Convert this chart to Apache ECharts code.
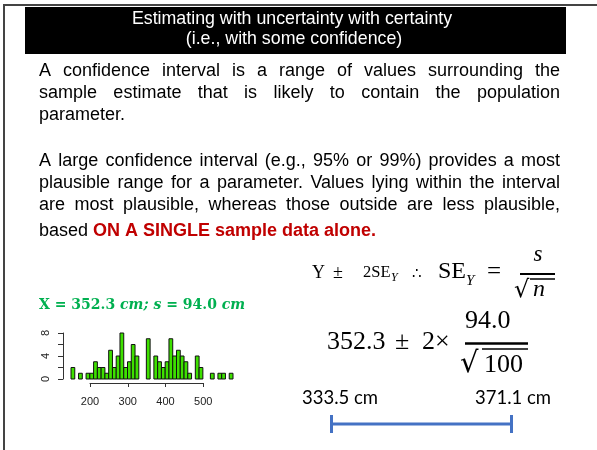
<!DOCTYPE html>
<html><head><meta charset="utf-8">
<script src="https://cdn.jsdelivr.net/npm/echarts@6/dist/echarts.min.js"></script>
<style>html,body{margin:0;padding:0;background:#fff}#c{width:597px;height:450px}</style>
</head><body><div id="c"></div>
<script>
// ---- data ----
const binStarts = [150,160,170,180,190,200,210,220,230,240,250,260,270,280,290,300,310,320,330,340,350,360,370,380,390,400,410,420,430,440,450,460,470,480,490,500,510,520,530,540,550,560,570];
const counts    = [2,0,1,0,1,1,3,2,2,1,5,2,4,8,2,3,6,4,0,0,7,0,4,3,2,3,7,4,5,4,3,1,0,4,2,0,0,1,0,1,1,0,1];
const binWidth = 10;
const xTickLabels = [200,300,400,500];
const yTickLabels = [0,4,8];
const sampleMean = 352.3, sampleSD = 94.0, sampleN = 100;
const ciLower = 333.5, ciUpper = 371.1;

const titleLines = ['Estimating with uncertainty with certainty','(i.e., with some confidence)'];
const para1 = ['A confidence interval is a range of values surrounding the','sample estimate that is likely to contain the population','parameter.'];
const para2 = ['A large confidence interval (e.g., 95% or 99%) provides a most','plausible range for a parameter.  Values lying within the interval','are most plausible, whereas those outside are less plausible,'];
const lastPlain = 'based ', lastRed = 'ON A SINGLE sample data alone.';

// ---- layout helpers ----
const SANS = '"Liberation Sans", Arial, sans-serif';
const SERIF = '"Liberation Serif", "DejaVu Serif", serif';
const meas = document.createElement('canvas').getContext('2d');
function tw(t, size, fam, weight){ meas.font = (weight||'normal')+' '+size+'px '+fam; return meas.measureText(t).width; }
function txt(t, x, y, o){
  o = o||{};
  return {type:'text', x:x, y:y, silent:true, style:Object.assign({text:t, fill:'#000', fontSize:17, fontFamily:SANS,
    align:'left', textAlign:'left', verticalAlign:'middle', textVerticalAlign:'middle'}, o)};
}
const graphics = [];
function justifyLine(line, x0, x1, y, size){
  const words = line.split(' ').filter(w=>w.length);
  const widths = words.map(w=>tw(w,size,SANS));
  const total = widths.reduce((a,b)=>a+b,0);
  const gap = (x1-x0-total)/(words.length-1);
  let x = x0;
  words.forEach((w,i)=>{ graphics.push(txt(w, x, y, {fontSize:size})); x += widths[i]+gap; });
}
// border
graphics.push({type:'line', silent:true, shape:{x1:4,y1:5,x2:597,y2:5}, style:{stroke:'#444',lineWidth:2}});
graphics.push({type:'line', silent:true, shape:{x1:4,y1:4,x2:4,y2:450}, style:{stroke:'#444',lineWidth:2}});
// title
graphics.push({type:'rect', silent:true, shape:{x:25,y:7,width:541,height:47}, style:{fill:'#000'}});
graphics.push(txt(titleLines[0], 292, 19, {fill:'#fff', align:'center', textAlign:'center', fontSize:17.8}));
graphics.push(txt(titleLines[1], 294, 39, {fill:'#fff', align:'center', textAlign:'center', fontSize:17.8}));
// body
const BX0 = 39, BX1 = 560, BS = 18;
justifyLine(para1[0], BX0, BX1, 71, BS);
justifyLine(para1[1], BX0, BX1, 93, BS);
graphics.push(txt(para1[2], BX0, 115, {fontSize:BS}));
justifyLine(para2[0], BX0, BX1, 161, BS);
justifyLine(para2[1], BX0, BX1, 183, BS);
justifyLine(para2[2], BX0, BX1, 205, BS);
graphics.push(txt(lastPlain, BX0, 231, {fontSize:BS}));
graphics.push(txt(lastRed, BX0 + tw(lastPlain,BS,SANS), 231, {fontSize:BS, fill:'#C00000', fontWeight:'bold'}));

// green summary
graphics.push({type:'text', x:39, y:305, silent:true, style:{
  text:'{b|X = '+sampleMean.toFixed(1)+' }{i|cm; s}{b| = '+sampleSD.toFixed(1)+' }{i|cm}',
  verticalAlign:'middle', textVerticalAlign:'middle',
  rich:{ b:{fontFamily:'"DejaVu Serif", serif', fontWeight:'bold', fontSize:14, fill:'#00B050', color:'#00B050'},
         i:{fontFamily:'"DejaVu Serif", serif', fontWeight:'bold', fontStyle:'italic', fontSize:14, fill:'#00B050', color:'#00B050'} }
}});

// formula 1
graphics.push(txt('Y', 312, 273, {fontFamily:SERIF, fontSize:18}));
graphics.push(txt('±', 333, 273, {fontFamily:SERIF, fontSize:18}));
graphics.push(txt('2SE', 363, 273, {fontFamily:SERIF, fontSize:16.5}));
graphics.push(txt('Y', 391, 278, {fontFamily:SERIF, fontSize:12, fontStyle:'italic'}));
graphics.push(txt('∴', 412, 274, {fontFamily:'"DejaVu Serif", serif', fontSize:15}));
graphics.push(txt('SE', 438, 272, {fontFamily:SERIF, fontSize:24}));
graphics.push(txt('Y', 466, 281, {fontFamily:SERIF, fontSize:15, fontStyle:'italic'}));
graphics.push(txt('=', 487, 272, {fontFamily:SERIF, fontSize:25}));
graphics.push(txt('s', 538, 255, {fontFamily:SERIF, fontSize:23, fontStyle:'italic', align:'center', textAlign:'center'}));
graphics.push({type:'line', silent:true, shape:{x1:520,y1:274,x2:555,y2:274}, style:{stroke:'#000',lineWidth:2}});
graphics.push(txt('√', 514, 291, {fontFamily:'"DejaVu Serif", serif', fontSize:24}));
graphics.push(txt('n', 533, 290, {fontFamily:SERIF, fontSize:24, fontStyle:'italic'}));
graphics.push({type:'line', silent:true, shape:{x1:530,y1:279,x2:555,y2:279}, style:{stroke:'#000',lineWidth:1.5}});

// formula 2
graphics.push(txt(sampleMean.toFixed(1), 327, 342, {fontFamily:SERIF, fontSize:26}));
graphics.push(txt('±', 395, 342, {fontFamily:SERIF, fontSize:26}));
graphics.push(txt('2×', 422, 342, {fontFamily:SERIF, fontSize:26}));
graphics.push(txt(sampleSD.toFixed(1), 465, 321, {fontFamily:SERIF, fontSize:26}));
graphics.push({type:'line', silent:true, shape:{x1:465,y1:343.5,x2:528,y2:343.5}, style:{stroke:'#000',lineWidth:2.5}});
graphics.push(txt('√', 460, 364, {fontFamily:'"DejaVu Serif", serif', fontSize:29}));
graphics.push(txt(String(sampleN), 484, 365, {fontFamily:SERIF, fontSize:26}));
graphics.push({type:'line', silent:true, shape:{x1:482,y1:349,x2:528,y2:349}, style:{stroke:'#000',lineWidth:1.5}});

// CI labels
graphics.push(txt(ciLower.toFixed(1)+' cm', 302, 398, {fontFamily:'Lato, "Open Sans", sans-serif', fontSize:18.5}));
graphics.push(txt(ciUpper.toFixed(1)+' cm', 475, 398, {fontFamily:'Lato, "Open Sans", sans-serif', fontSize:18.5}));

const histData = binStarts.map((b,i)=>[b, counts[i]]);

const chart = echarts.init(document.getElementById('c'), null, {renderer:'canvas'});
chart.setOption({
  animation:false,
  backgroundColor:'#fff',
  grid:[
    {left:71, top:333, width:162, height:46},
    {left:90, top:333, width:113.3, height:46},
    {left:331.5, top:400, width:180, height:48}
  ],
  xAxis:[
    {gridIndex:0, type:'value', min:150, max:580, show:false},
    {gridIndex:1, type:'value', min:200, max:500, interval:100, offset:4,
      axisLine:{show:true, onZero:false, lineStyle:{color:'#333', width:1}},
      axisTick:{show:true, length:4, lineStyle:{color:'#333'}},
      axisLabel:{show:true, margin:13, color:'#222', fontSize:11, fontFamily:SANS,
        formatter:v=> xTickLabels.indexOf(v)>=0 ? String(v) : ''},
      splitLine:{show:false}},
    {gridIndex:2, type:'value', min:ciLower, max:ciUpper, show:false}
  ],
  yAxis:[
    {gridIndex:0, type:'value', min:0, max:8, interval:2, offset:8,
      axisLine:{show:true, lineStyle:{color:'#333', width:1}},
      axisTick:{show:true, length:5, lineStyle:{color:'#333'}},
      axisLabel:{show:true, rotate:90, margin:12, color:'#222', fontSize:11, fontFamily:SANS,
        formatter:v=> yTickLabels.indexOf(v)>=0 ? String(v) : ''},
      splitLine:{show:false}},
    {gridIndex:1, type:'value', min:0, max:8, show:false},
    {gridIndex:2, type:'value', min:-1, max:1, show:false}
  ],
  graphic: graphics,
  series:[
    {type:'custom', xAxisIndex:0, yAxisIndex:0, data:histData, encode:{x:0,y:1}, silent:true,
      renderItem:function(params, api){
        const x0 = api.value(0), h = api.value(1);
        if(!h) return null;
        const p0 = api.coord([x0, h]), p1 = api.coord([x0+binWidth, 0]);
        return {type:'rect', shape:{x:p0[0], y:p0[1], width:p1[0]-p0[0], height:p1[1]-p0[1]},
          style:{fill:'#3ee000', stroke:'#111', lineWidth:1}};
      }},
    {type:'custom', xAxisIndex:2, yAxisIndex:2, data:[[ciLower, ciUpper, 0]], encode:{x:[0,1], y:2}, silent:true,
      renderItem:function(params, api){
        const a = api.coord([api.value(0), api.value(2)]), b = api.coord([api.value(1), api.value(2)]);
        const st = {stroke:'#4472C4', lineWidth:3};
        return {type:'group', children:[
          {type:'line', shape:{x1:a[0], y1:a[1], x2:b[0], y2:b[1]}, style:st},
          {type:'line', shape:{x1:a[0], y1:a[1]-9, x2:a[0], y2:a[1]+9}, style:st},
          {type:'line', shape:{x1:b[0], y1:b[1]-9, x2:b[0], y2:b[1]+9}, style:st}
        ]};
      }}
  ]
});
</script>
</body></html>
